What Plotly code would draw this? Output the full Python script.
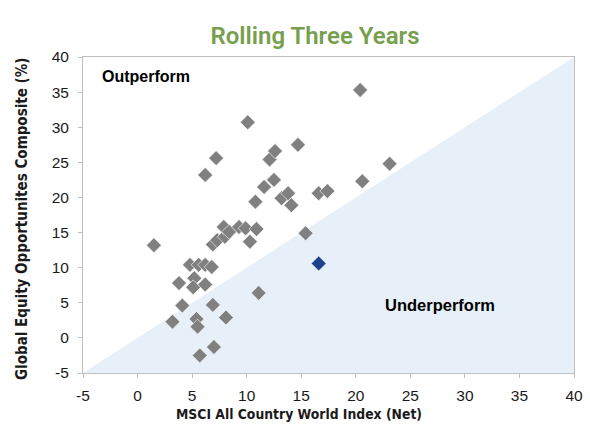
import plotly.graph_objects as go

# Data (annualised returns, %)
index_returns = [1.5, 3.2, 3.8, 4.1, 4.8, 5.2, 5.1, 5.4, 5.5, 5.6, 5.7, 6.2, 6.2, 6.2, 6.8,
                 6.9, 7.0, 6.9, 7.2, 7.3, 8.0, 7.9, 8.4, 8.1, 9.3, 9.9, 10.1, 10.3, 10.8,
                 10.9, 11.1, 11.6, 12.1, 12.5, 12.6, 13.2, 13.8, 14.1, 14.7, 15.4, 16.6,
                 17.4, 20.6, 20.4, 23.1]
composite_returns = [13.2, 2.3, 7.8, 4.6, 10.4, 8.5, 7.2, 2.7, 1.6, 10.4, -2.5, 10.4, 7.6,
                     23.2, 10.1, 4.7, -1.3, 13.3, 25.6, 13.9, 14.4, 15.8, 15.1, 2.9, 15.8,
                     15.6, 30.7, 13.7, 19.4, 15.5, 6.4, 21.5, 25.4, 22.5, 26.6, 19.9, 20.6,
                     18.9, 27.5, 14.9, 20.6, 20.9, 22.3, 35.3, 24.8]
latest_index = [16.6]
latest_composite = [10.6]

axis_range = [-5, 40]
tick_vals = list(range(-5, 41, 5))
tick_text = [str(v) for v in tick_vals]

W, H = 590, 429
ML, MR, MT, MB = 83, 16, 57, 56

fig = go.Figure()

# Underperform region (below the y = x line)
lo, hi = axis_range
fig.add_trace(go.Scatter(
    x=[lo, hi, hi, lo], y=[lo, hi, lo, lo],
    mode="lines", fill="toself", fillcolor="#e7eff8",
    line=dict(width=0, color="#e7eff8"), hoverinfo="skip", showlegend=False))

fig.add_trace(go.Scatter(
    x=index_returns, y=composite_returns, mode="markers",
    marker=dict(symbol="diamond", size=11.5, color="#808080",
                line=dict(width=0.6, color="white")),
    showlegend=False))

fig.add_trace(go.Scatter(
    x=latest_index, y=latest_composite, mode="markers",
    marker=dict(symbol="diamond", size=11.5, color="#1b4389",
                line=dict(width=0.6, color="white")),
    showlegend=False))

axis_common = dict(
    range=axis_range, tickvals=tick_vals, ticktext=tick_text,
    showgrid=False, zeroline=False, automargin=False,
    showline=True, linecolor="#bfbfbf", linewidth=1, mirror=True,
    ticks="outside", ticklen=4, tickcolor="#bfbfbf",
    tickfont=dict(family="Liberation Sans, Arial, sans-serif", size=15.5, color="#1a1a1a"),
)

cond = "DejaVu Sans Condensed, Liberation Sans Narrow, Liberation Sans, sans-serif"

pw, ph = W - ML - MR, H - MT - MB


def px_to_paper(px, py):
    return (px - ML) / pw, (H - MB - py) / ph


xt_x, xt_y = px_to_paper(299, 414)
yt_x, yt_y = px_to_paper(22, 219)

fig.update_layout(
    width=W, height=H,
    margin=dict(l=ML, r=MR, t=MT, b=MB),
    paper_bgcolor="white", plot_bgcolor="white",
    title=dict(text="Rolling Three Years", x=0.534, xanchor="center", y=0.918, yanchor="middle",
               font=dict(family="Roboto, sans-serif", weight=600, size=24, color="#76a04e")),
    xaxis=dict(axis_common, ticklabelstandoff=4),
    yaxis=dict(axis_common, ticklabelstandoff=6),
    annotations=[
        dict(text="<b>MSCI All Country World Index (Net)</b>", x=xt_x, y=xt_y,
             xref="paper", yref="paper", showarrow=False,
             font=dict(family=cond, size=13.8, color="#1a1a1a"),
             xanchor="center", yanchor="middle"),
        dict(text="<b>Global Equity Opportunites Composite (%)</b>", x=yt_x, y=yt_y,
             xref="paper", yref="paper", textangle=-90, showarrow=False,
             font=dict(family=cond, size=15, color="#1a1a1a"),
             xanchor="center", yanchor="middle"),
        dict(text="<b>Outperform</b>", x=-3.45, y=37.2, xref="x", yref="y",
             xanchor="left", yanchor="middle", showarrow=False,
             font=dict(family="Liberation Sans, Arial, sans-serif", size=16, color="black")),
        dict(text="<b>Underperform</b>", x=22.5, y=4.7, xref="x", yref="y",
             xanchor="left", yanchor="middle", showarrow=False,
             font=dict(family="Liberation Sans, Arial, sans-serif", size=16.5, color="black")),
    ],
)

fig.write_html("out.html", config={"displayModeBar": False},
               post_script="document.body.style.margin='0';")
